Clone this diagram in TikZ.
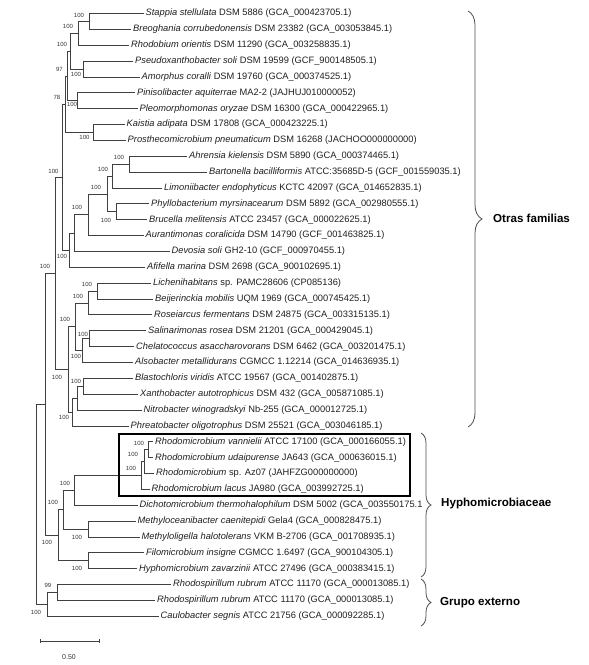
\documentclass[tikz,border=0pt]{standalone}
\usepackage{fontspec}
\setmainfont{Liberation Sans}
\usetikzlibrary{calc,decorations.pathreplacing}

\tikzset{
  leaf/.style={anchor=west, inner xsep=2pt, inner ysep=0pt, font=\fontsize{9.3}{10}\selectfont, text=black!88},
  boot/.style={inner sep=0pt, font=\fontsize{6}{7}\selectfont, text=black!80},
  branch/.style={draw=black!75, line width=0.7pt},
  grp/.style={anchor=west, inner sep=0pt, font=\fontsize{11.6}{13}\selectfont\bfseries},
  brc/.style={draw=black!70, line width=0.8pt, decorate, decoration={brace, amplitude=#1}},
  hbox/.style={draw=black, line width=1.6pt},
}

\newcommand{\inode}[4]{%
  \path let \p1=($(#3)!.5!(#4)$) in coordinate (#1) at (#2pt,\y1);
  \draw[branch] (#1) |- (#3);
  \draw[branch] (#1) |- (#4);
}

\begin{document}
\begin{tikzpicture}[x=1pt,y=-1pt]
\useasboundingbox (0,0) rectangle (589,665);

% leaves
\node[leaf] (L1) at (143.5,13.5) {\textit{Stappia stellulata} DSM 5886 (GCA\_000423705.1)};
\node[leaf] (L2) at (131,29.4) {\textit{Breoghania corrubedonensis} DSM 23382 (GCA\_003053845.1)};
\node[leaf] (L3) at (129,45.2) {\textit{Rhodobium orientis} DSM 11290 (GCA\_003258835.1)};
\node[leaf] (L4) at (133,61.1) {\textit{Pseudoxanthobacter soli} DSM 19599 (GCF\_900148505.1)};
\node[leaf] (L5) at (139.5,76.9) {\textit{Amorphus coralli} DSM 19760 (GCA\_000374525.1)};
\node[leaf] (L6) at (135,92.8) {\textit{Pinisolibacter aquiterrae} MA2-2 (JAJHUJ010000052)};
\node[leaf] (L7) at (137.5,108.7) {\textit{Pleomorphomonas oryzae} DSM 16300 (GCA\_000422965.1)};
\node[leaf] (L8) at (124.5,124.5) {\textit{Kaistia adipata} DSM 17808 (GCA\_000423225.1)};
\node[leaf] (L9) at (125.5,140.4) {\textit{Prosthecomicrobium pneumaticum} DSM 16268 (JACHOO000000000)};
\node[leaf] (L10) at (187,156.2) {\textit{Ahrensia kielensis} DSM 5890 (GCA\_000374465.1)};
\node[leaf] (L11) at (207,172.1) {\textit{Bartonella bacilliformis} ATCC:35685D-5 (GCF\_001559035.1)};
\node[leaf] (L12) at (162,188.0) {\textit{Limoniibacter endophyticus} KCTC 42097 (GCA\_014652835.1)};
\node[leaf] (L13) at (149,203.8) {\textit{Phyllobacterium myrsinacearum} DSM 5892 (GCA\_002980555.1)};
\node[leaf] (L14) at (147,219.7) {\textit{Brucella melitensis} ATCC 23457 (GCA\_000022625.1)};
\node[leaf] (L15) at (143.5,235.5) {\textit{Aurantimonas coralicida} DSM 14790 (GCF\_001463825.1)};
\node[leaf] (L16) at (169.5,251.4) {\textit{Devosia soli} GH2-10 (GCF\_000970455.1)};
\node[leaf] (L17) at (145,267.3) {\textit{Afifella marina} DSM 2698 (GCA\_900102695.1)};
\node[leaf] (L18) at (151,283.1) {\textit{Lichenihabitans} sp. PAMC28606 (CP085136)};
\node[leaf] (L19) at (153,299.0) {\textit{Beijerinckia mobilis} UQM 1969 (GCA\_000745425.1)};
\node[leaf] (L20) at (152,314.8) {\textit{Roseiarcus fermentans} DSM 24875 (GCA\_003315135.1)};
\node[leaf] (L21) at (146,330.7) {\textit{Salinarimonas rosea} DSM 21201 (GCA\_000429045.1)};
\node[leaf] (L22) at (134,346.6) {\textit{Chelatococcus asaccharovorans} DSM 6462 (GCA\_003201475.1)};
\node[leaf] (L23) at (133,362.4) {\textit{Alsobacter metallidurans} CGMCC 1.12214 (GCA\_014636935.1)};
\node[leaf] (L24) at (133,378.3) {\textit{Blastochloris viridis} ATCC 19567 (GCA\_001402875.1)};
\node[leaf] (L25) at (138,394.1) {\textit{Xanthobacter autotrophicus} DSM 432 (GCA\_005871085.1)};
\node[leaf] (L26) at (141.5,410.0) {\textit{Nitrobacter winogradskyi} Nb-255 (GCA\_000012725.1)};
\node[leaf] (L27) at (128.5,425.9) {\textit{Phreatobacter oligotrophus} DSM 25521 (GCA\_003046185.1)};
\node[leaf] (L28) at (153,441.7) {\textit{Rhodomicrobium vannielii} ATCC 17100 (GCA\_000166055.1)};
\node[leaf] (L29) at (153,457.6) {\textit{Rhodomicrobium udaipurense} JA643 (GCA\_000636015.1)};
\node[leaf] (L30) at (154,473.4) {\textit{Rhodomicrobium} sp. Az07 (JAHFZG000000000)};
\node[leaf] (L31) at (149.5,489.3) {\textit{Rhodomicrobium lacus} JA980 (GCA\_003992725.1)};
\node[leaf] (L32) at (137.5,505.2) {\textit{Dichotomicrobium thermohalophilum} DSM 5002 (GCA\_003550175.1};
\node[leaf] (L33) at (135.5,521.0) {\textit{Methyloceanibacter caenitepidi} Gela4 (GCA\_000828475.1)};
\node[leaf] (L34) at (139.5,536.9) {\textit{Methyloligella halotolerans} VKM B-2706 (GCA\_001708935.1)};
\node[leaf] (L35) at (144,552.7) {\textit{Filomicrobium insigne} CGMCC 1.6497 (GCA\_900104305.1)};
\node[leaf] (L36) at (137,568.6) {\textit{Hyphomicrobium zavarzinii} ATCC 27496 (GCA\_000383415.1)};
\node[leaf] (L37) at (171,584.5) {\textit{Rhodospirillum rubrum} ATCC 11170 (GCA\_000013085.1)};
\node[leaf] (L38) at (155,600.3) {\textit{Rhodospirillum rubrum} ATCC 11170 (GCA\_000013085.1)};
\node[leaf] (L39) at (158.5,616.2) {\textit{Caulobacter segnis} ATCC 21756 (GCA\_000092285.1)};

% internal nodes
\inode{N1}{89}{L1.west}{L2.west}
\inode{N2}{78}{N1}{L3.west}
\inode{N3}{83}{L4.west}{L5.west}
\inode{N4}{70}{N2}{N3}
\inode{N5}{77}{L6.west}{L7.west}
\inode{N6}{67.5}{N4}{N5}
\inode{N7}{93}{L8.west}{L9.west}
\inode{N8}{65}{N6}{N7}
\inode{M1}{129}{L10.west}{L11.west}
\inode{M2}{112}{M1}{L12.west}
\inode{M3}{116}{L13.west}{L14.west}
\inode{M4}{107}{M2}{M3}
\inode{M5}{88}{M4}{L15.west}
\inode{M6}{74}{M5}{L16.west}
\inode{M7}{69}{M6}{L17.west}
\inode{Q1}{62}{N8}{M7}
\inode{R1}{97}{L18.west}{L19.west}
\inode{R2}{88}{R1}{L20.west}
\inode{R3}{89}{L21.west}{L22.west}
\inode{R4}{82}{R3}{L23.west}
\inode{R5}{75}{R2}{R4}
\inode{R6}{83}{L24.west}{L25.west}
\inode{R7}{77}{R6}{L26.west}
\inode{R8}{72}{R7}{L27.west}
\inode{R9}{68}{R5}{R8}
\inode{Q2}{55}{Q1}{R9}
\inode{H1}{148}{L28.west}{L29.west}
\inode{H2}{144}{H1}{L30.west}
\inode{H3}{141}{H2}{L31.west}
\inode{H4}{74.5}{H3}{L32.west}
\inode{H5}{88}{L33.west}{L34.west}
\inode{H6}{63}{H4}{H5}
\inode{H7}{88}{L35.west}{L36.west}
\inode{H8}{58}{H6}{H7}
\inode{Q3}{45}{Q2}{H8}
\inode{O1}{57}{L37.west}{L38.west}
\inode{O2}{47}{O1}{L39.west}
\inode{RT}{36}{Q3}{O2}

% bootstrap values
\node[boot] (bN1) at (79,15) {100};
\node[boot] (bN2) at (68,26.5) {100};
\node[boot] (bN4) at (62,44) {100};
\node[boot] (bN6) at (59.5,69) {97};
\node[boot] (bN3) at (76,74) {100};
\node[boot] (bN8) at (57,97) {78};
\node[boot] (bN5) at (72,104.5) {100};
\node[boot] (bN7) at (84.5,137) {100};
\node[boot] (bM1) at (119,157) {100};
\node[boot] (bQ1) at (53.5,171) {100};
\node[boot] (bM2) at (103,169) {100};
\node[boot] (bM4) at (96,187) {100};
\node[boot] (bM5) at (77,207) {100};
\node[boot] (bM3) at (106,220) {100};
\node[boot] (bM7) at (62,256) {100};
\node[boot] (bQ2) at (45,266) {100};
\node[boot] (bR1) at (87,284) {100};
\node[boot] (bR2) at (78,296) {100};
\node[boot] (bR5) at (65,319) {100};
\node[boot] (bR3) at (83,334) {100};
\node[boot] (bR4) at (76,356) {100};
\node[boot] (bR9) at (57,377) {100};
\node[boot] (bR6) at (76,381) {100};
\node[boot] (bR8) at (64,417) {100};
\node[boot] (bH1) at (139,443) {100};
\node[boot] (bH2) at (133,454) {100};
\node[boot] (bH3) at (131,468) {100};
\node[boot] (bH4) at (65,483) {100};
\node[boot] (bH6) at (53,502) {100};
\node[boot] (bH5) at (77,537) {100};
\node[boot] (bH8) at (47,542) {100};
\node[boot] (bH7) at (77,568.5) {100};
\node[boot] (bO1) at (48,585) {99};
\node[boot] (bO2) at (36,612) {100};

% highlight box
\draw[hbox] (119,434) rectangle (410,496);

% scale bar
\coordinate (s1) at (40,641);
\coordinate (s2) at (99,641);
\draw[branch] (s1) -- (s2);
\draw[branch] ([yshift=2pt]s1) -- ([yshift=-2pt]s1);
\draw[branch] ([yshift=2pt]s2) -- ([yshift=-2pt]s2);
\node[font=\fontsize{7}{8}\selectfont, text=black!80] (sl) at (69,657) {0.50};

% braces and group labels
\draw[brc=14] (468,11) -- (468,427);
\node[grp] (g1) at (493,218) {Otras familias};
\draw[brc=10] (421,433) -- (421,577);
\node[grp] (g2) at (441,503) {Hyphomicrobiaceae};
\draw[brc=10] (421,579) -- (421,626);
\node[grp] (g3) at (440,603) {Grupo externo};
\end{tikzpicture}
\end{document}
